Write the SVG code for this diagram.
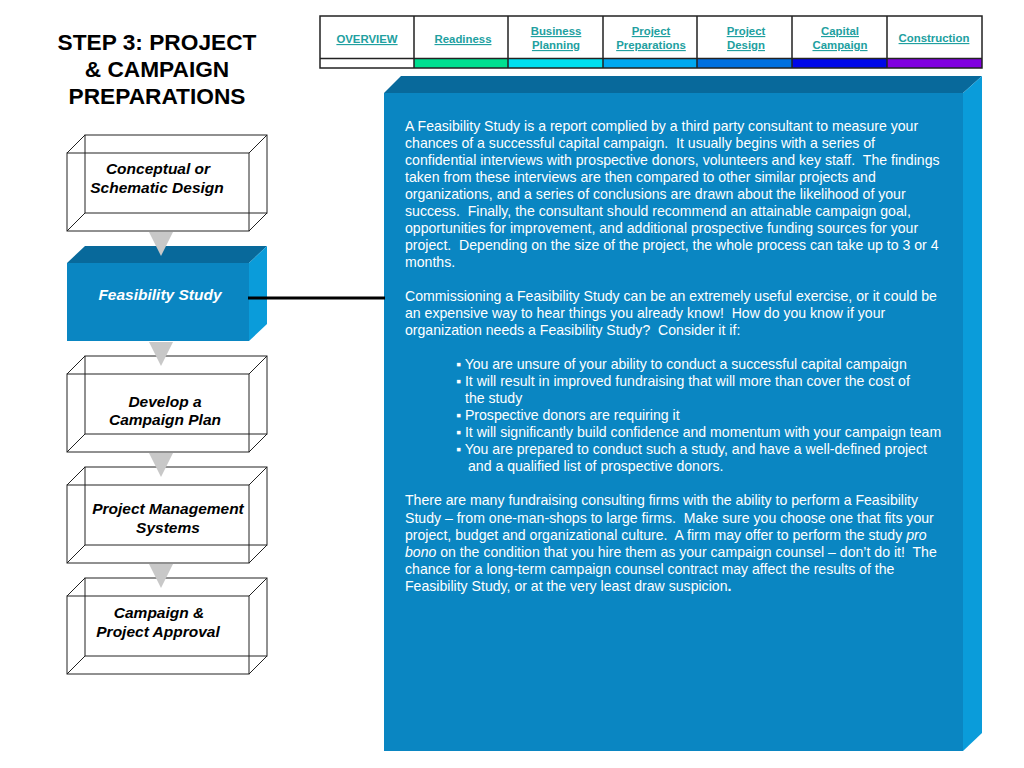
<svg xmlns="http://www.w3.org/2000/svg" width="1024" height="768" viewBox="0 0 1024 768">
<style>
.title{font-family:"Liberation Sans",Arial,sans-serif;font-weight:bold;font-size:22.7px;fill:#000;text-anchor:middle}
.nav{font-family:"Liberation Sans",Arial,sans-serif;font-weight:bold;font-size:11.4px;fill:#21A0A0;text-anchor:middle;text-decoration:underline}
.grid{stroke:#222;stroke-width:1.5;fill:none}
.wire{stroke:#222;stroke-width:1;fill:none}
.lbl{font-family:"Liberation Sans",Arial,sans-serif;font-weight:bold;font-style:italic;font-size:15.5px;fill:#000;text-anchor:middle}
.lblw{font-family:"Liberation Sans",Arial,sans-serif;font-weight:bold;font-style:italic;font-size:15.5px;fill:#fff;text-anchor:middle}
.body{font-family:"Liberation Sans",Arial,sans-serif;font-size:14.1px;fill:#fff;white-space:pre}
.tri{fill:#C8C8C8}
</style>
<rect width="1024" height="768" fill="#fff"/>
<g id="title">
<text class="title" x="157" y="50">STEP 3: PROJECT</text>
<text class="title" x="157" y="77">&amp; CAMPAIGN</text>
<text class="title" x="157" y="104">PREPARATIONS</text>
</g>
<g id="nav">
<rect x="414" y="59" width="94" height="9" fill="#00E090"/>
<rect x="508" y="59" width="95" height="9" fill="#00E0F0"/>
<rect x="603" y="59" width="94" height="9" fill="#00A8F0"/>
<rect x="697" y="59" width="95" height="9" fill="#0070E0"/>
<rect x="792" y="59" width="95" height="9" fill="#0008E8"/>
<rect x="887" y="59" width="95" height="9" fill="#8000E0"/>
<rect class="grid" x="320" y="16" width="662" height="52"/>
<line class="grid" x1="320" y1="58.5" x2="982" y2="58.5"/>
<path class="grid" d="M414,16V68M508,16V68M603,16V68M697,16V68M792,16V68M887,16V68"/>
<text class="nav" x="367" y="43">OVERVIEW</text>
<text class="nav" x="463" y="43">Readiness</text>
<text class="nav" x="556" y="35">Business</text>
<text class="nav" x="556" y="49">Planning</text>
<text class="nav" x="651" y="35">Project</text>
<text class="nav" x="651" y="49">Preparations</text>
<text class="nav" x="746" y="35">Project</text>
<text class="nav" x="746" y="49">Design</text>
<text class="nav" x="840" y="35">Capital</text>
<text class="nav" x="840" y="49">Campaign</text>
<text class="nav" x="934" y="42">Construction</text>
</g>
<g id="box-conceptual">
<rect class="wire" x="85" y="135" width="182" height="78"/>
<rect class="wire" x="67" y="153" width="182" height="78"/>
<path class="wire" d="M67,153L85,135M249,153L267,135M67,231L85,213M249,231L267,213"/>
<text class="lbl" x="158" y="173.5">Conceptual or</text>
<text class="lbl" x="157" y="192.5">Schematic Design</text>
</g>
<g id="box-feasibility">
<polygon points="67,263 85,246 267,246 249,263" fill="#08699B"/>
<polygon points="249,263 267,246 267,324 249,341" fill="#0A9CDA"/>
<rect x="67" y="263" width="182" height="78" fill="#0A86C2"/>
<text class="lblw" x="160" y="300">Feasibility Study</text>
</g>
<g id="box-develop">
<rect class="wire" x="85" y="356" width="182" height="78"/>
<rect class="wire" x="67" y="374" width="182" height="78"/>
<path class="wire" d="M67,374L85,356M249,374L267,356M67,452L85,434M249,452L267,434"/>
<text class="lbl" x="165" y="407">Develop a</text>
<text class="lbl" x="165" y="425">Campaign Plan</text>
</g>
<g id="box-pms">
<rect class="wire" x="85" y="467" width="182" height="78"/>
<rect class="wire" x="67" y="485" width="182" height="78"/>
<path class="wire" d="M67,485L85,467M249,485L267,467M67,563L85,545M249,563L267,545"/>
<text class="lbl" x="168" y="514">Project Management</text>
<text class="lbl" x="168" y="533">Systems</text>
</g>
<g id="box-approval">
<rect class="wire" x="85" y="578" width="182" height="78"/>
<rect class="wire" x="67" y="596" width="182" height="78"/>
<path class="wire" d="M67,596L85,578M249,596L267,578M67,674L85,656M249,674L267,656"/>
<text class="lbl" x="159" y="618">Campaign &amp;</text>
<text class="lbl" x="158" y="637">Project Approval</text>
</g>
<g id="panel">
<polygon points="384,93 401,76 982,76 963,93" fill="#08699B"/>
<polygon points="963,93 982,76 982,733 963,751" fill="#0A9CDA"/>
<rect x="384" y="93" width="579" height="658" fill="#0A86C2"/>
<text class="body" x="405" y="131">A Feasibility Study is a report complied by a third party consultant to measure your</text>
<text class="body" x="405" y="148">chances of a successful capital campaign.  It usually begins with a series of</text>
<text class="body" x="405" y="165">confidential interviews with prospective donors, volunteers and key staff.  The findings</text>
<text class="body" x="405" y="182">taken from these interviews are then compared to other similar projects and</text>
<text class="body" x="405" y="199">organizations, and a series of conclusions are drawn about the likelihood of your</text>
<text class="body" x="405" y="216">success.  Finally, the consultant should recommend an attainable campaign goal,</text>
<text class="body" x="405" y="233">opportunities for improvement, and additional prospective funding sources for your</text>
<text class="body" x="405" y="250">project.  Depending on the size of the project, the whole process can take up to 3 or 4</text>
<text class="body" x="405" y="267">months.</text>
<text class="body" x="405" y="301">Commissioning a Feasibility Study can be an extremely useful exercise, or it could be</text>
<text class="body" x="405" y="318">an expensive way to hear things you already know!  How do you know if your</text>
<text class="body" x="405" y="335">organization needs a Feasibility Study?  Consider it if:</text>
<text class="body" x="456" y="369">▪ You are unsure of your ability to conduct a successful capital campaign</text>
<text class="body" x="456" y="386">▪ It will result in improved fundraising that will more than cover the cost of</text>
<text class="body" x="465" y="403">the study</text>
<text class="body" x="456" y="420">▪ Prospective donors are requiring it</text>
<text class="body" x="456" y="437">▪ It will significantly build confidence and momentum with your campaign team</text>
<text class="body" x="456" y="454">▪ You are prepared to conduct such a study, and have a well-defined project</text>
<text class="body" x="468" y="471">and a qualified list of prospective donors.</text>
<text class="body" x="405" y="505">There are many fundraising consulting firms with the ability to perform a Feasibility</text>
<text class="body" x="405" y="523">Study – from one-man-shops to large firms.  Make sure you choose one that fits your</text>
<text class="body" x="405" y="540">project, budget and organizational culture.  A firm may offer to perform the study <tspan font-style="italic">pro</tspan></text>
<text class="body" x="405" y="557"><tspan font-style="italic">bono</tspan> on the condition that you hire them as your campaign counsel – don’t do it!  The</text>
<text class="body" x="405" y="574">chance for a long-term campaign counsel contract may affect the results of the</text>
<text class="body" x="405" y="591">Feasibility Study, or at the very least draw suspicion<tspan font-weight="bold">.</tspan></text>
</g>
<g id="connectors">
<line x1="248" y1="298" x2="385" y2="298" stroke="#000" stroke-width="3"/>
<polygon class="tri" points="149,232 173,232 161,256"/>
<polygon class="tri" points="149,342 173,342 161,366"/>
<polygon class="tri" points="149,453 173,453 161,477"/>
<polygon class="tri" points="149,564 173,564 161,588"/>
</g>
</svg>
